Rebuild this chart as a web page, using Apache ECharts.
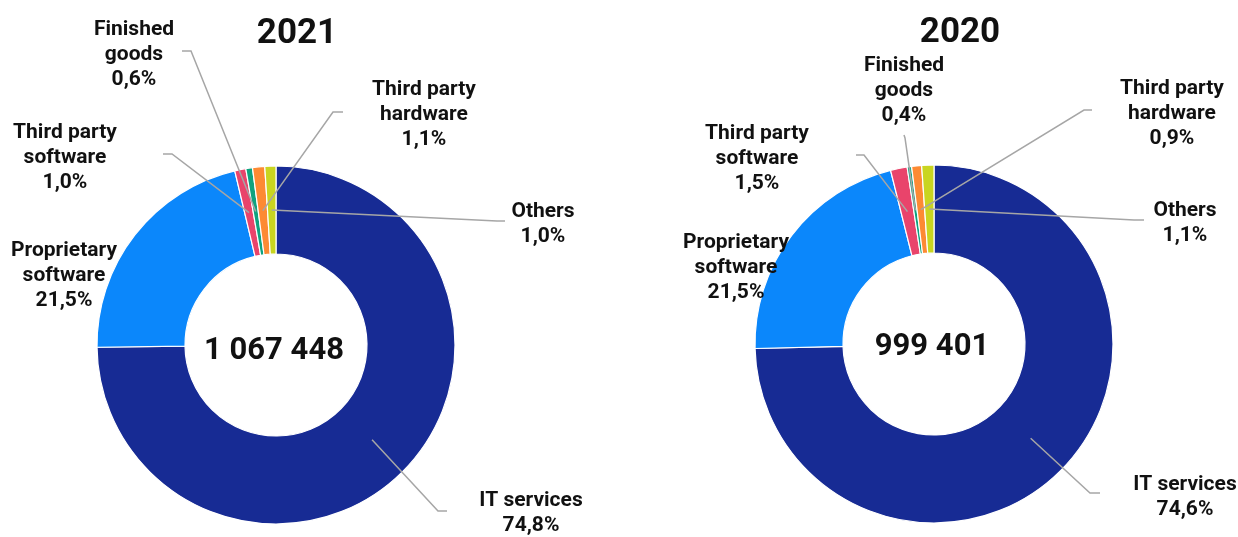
<!DOCTYPE html>
<html>
<head>
<meta charset="utf-8">
<script src="https://cdn.jsdelivr.net/npm/echarts@6/dist/echarts.min.js"></script>
<style>
  html, body { margin: 0; padding: 0; background: #ffffff; }
  #chart { width: 1238px; height: 537px; }
</style>
</head>
<body>
<div id="chart"></div>
<script>
// ---- data ----
const years = ['2021', '2020'];
const categories = ['IT services', 'Proprietary software', 'Third party software', 'Finished goods', 'Third party hardware', 'Others'];
const labelNames = ['IT services', 'Proprietary\nsoftware', 'Third party\nsoftware', 'Finished\ngoods', 'Third party\nhardware', 'Others'];
const share2021 = [74.8, 21.5, 1.0, 0.6, 1.1, 1.0];
const share2020 = [74.6, 21.5, 1.5, 0.4, 0.9, 1.1];
const totals = [1067448, 999401];

// ---- styling / layout ----
const colors = ['#172b94', '#0b87fb', '#e9446b', '#0fa27e', '#fd8a33', '#c9d520'];
const FONT = 'Roboto, "Noto Sans", sans-serif';
const pies = [
  { cx: 276, cy: 345, titleX: 297, titleY: 34, totalY: 351,
    labels: [
      { x: 531, y: 513, end: [447, 511], bend: [438, 511] },
      { x: 64, y: 276 },
      { x: 65, y: 158, end: [163, 154], bend: [172, 154] },
      { x: 134, y: 55, end: [182, 51], bend: [191, 51] },
      { x: 424, y: 115, end: [343, 112], bend: [333, 112] },
      { x: 543, y: 224, end: [505, 221], bend: [497, 221] }
    ] },
  { cx: 934, cy: 344, titleX: 960, titleY: 33, totalY: 347,
    labels: [
      { x: 1185, y: 497, end: [1100, 493], bend: [1090, 493] },
      { x: 736, y: 268 },
      { x: 757, y: 159, end: [856, 155], bend: [864, 155] },
      { x: 904, y: 91, end: [904, 135], bend: [905, 138] },
      { x: 1172, y: 114, end: [1092, 110], bend: [1084, 110] },
      { x: 1185, y: 223, end: [1144, 220], bend: [1134, 220] }
    ] }
];

function fmtPct(v) { return v.toFixed(1).replace('.', ',') + '%'; }
function fmtTotal(v) { return String(v).replace(/\B(?=(\d{3})+(?!\d))/g, ' '); }

const shares = [share2021, share2020];
const series = [];
const graphic = [];

pies.forEach(function (p, k) {
  const data = categories.map(function (c, i) {
    return { name: c, value: shares[k][i], itemStyle: { color: colors[i] } };
  });
  // the ring
  series.push({
    type: 'pie',
    center: [p.cx, p.cy],
    radius: [91, 179],
    startAngle: 90,
    clockwise: true,
    avoidLabelOverlap: false,
    silent: true,
    itemStyle: { borderColor: '#ffffff', borderWidth: 1.2 },
    label: { show: false },
    labelLine: { show: false },
    data: data,
    z: 2
  });
  // labels with leader lines anchored mid-ring
  series.push({
    type: 'pie',
    center: [p.cx, p.cy],
    radius: [0, 135],
    startAngle: 90,
    clockwise: true,
    avoidLabelOverlap: false,
    silent: true,
    itemStyle: { color: 'rgba(0,0,0,0)', borderWidth: 0 },
    label: {
      show: true,
      position: 'outside',
      formatter: function (prm) { return labelNames[prm.dataIndex] + '\n' + fmtPct(prm.value); },
      fontFamily: FONT,
      fontWeight: 'bold',
      fontSize: 21,
      lineHeight: 25,
      color: '#111111',
      align: 'center'
    },
    labelLine: { show: true, length: 10, length2: 10, lineStyle: { color: '#a6a6a6', width: 1.5 } },
    labelLayout: function (prm) {
      const cfg = p.labels[prm.dataIndex];
      const out = { x: cfg.x, y: cfg.y, align: 'center', verticalAlign: 'middle' };
      if (cfg.end && prm.labelLinePoints) {
        out.labelLinePoints = [prm.labelLinePoints[0].slice(), cfg.bend, cfg.end];
      }
      return out;
    },
    data: categories.map(function (c, i) {
      const d = { name: c, value: shares[k][i] };
      if (!p.labels[i].end) d.labelLine = { show: false };
      return d;
    }),
    z: 5
  });
  graphic.push({
    type: 'text', x: p.titleX, y: p.titleY, silent: true,
    style: { text: years[k], fontFamily: FONT, fontWeight: 'bold', fontSize: 35, fill: '#111111',
             align: 'center', verticalAlign: 'middle', textAlign: 'center', textVerticalAlign: 'middle' }
  });
  graphic.push({
    type: 'text', x: p.cx - 2, y: p.totalY, silent: true,
    style: { text: fmtTotal(totals[k]), fontFamily: FONT, fontWeight: 'bold', fontSize: 31, fill: '#111111',
             align: 'center', verticalAlign: 'middle', textAlign: 'center', textVerticalAlign: 'middle' }
  });
});

const chart = echarts.init(document.getElementById('chart'), null, { renderer: 'canvas' });
chart.setOption({
  animation: false,
  backgroundColor: '#ffffff',
  series: series,
  graphic: graphic
});
</script>
</body>
</html>
